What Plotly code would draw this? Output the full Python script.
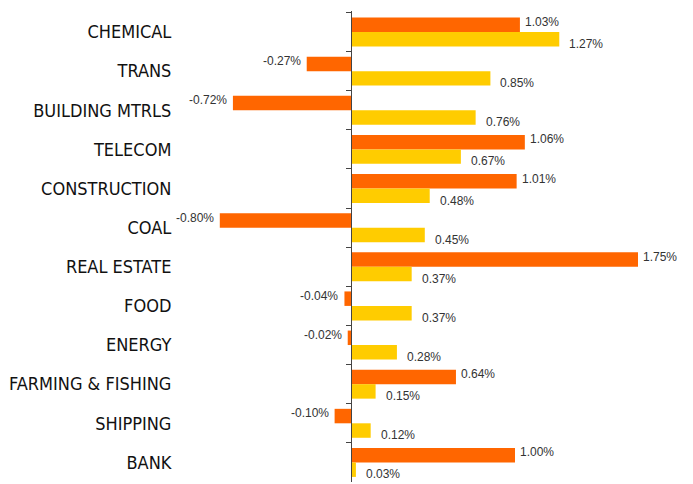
import plotly.graph_objects as go

categories = ["CHEMICAL", "TRANS", "BUILDING MTRLS", "TELECOM", "CONSTRUCTION", "COAL",
              "REAL ESTATE", "FOOD", "ENERGY", "FARMING & FISHING", "SHIPPING", "BANK"]
series_a = [1.03, -0.27, -0.72, 1.06, 1.01, -0.80, 1.75, -0.04, -0.02, 0.64, -0.10, 1.00]
series_b = [1.27, 0.85, 0.76, 0.67, 0.48, 0.45, 0.37, 0.37, 0.28, 0.15, 0.12, 0.03]

color_a = "#FF6600"
color_b = "#FFCC00"

x_min, x_max = -1.0, 2.0

fig = go.Figure()
fig.add_trace(go.Bar(y=categories, x=series_a, orientation="h", marker_color=color_a,
                     marker_line_width=0, name="A", hoverinfo="skip"))
fig.add_trace(go.Bar(y=categories, x=series_b, orientation="h", marker_color=color_b,
                     marker_line_width=0, name="B", hoverinfo="skip"))

label_font = dict(family="Liberation Sans, Arial, sans-serif", size=12, color="#333333")
annotations = []
for cat, v in zip(categories, series_a):
    annotations.append(dict(x=v, y=cat, xref="x", yref="y", text=f"{v:.2f}%", showarrow=False,
                            xanchor="left" if v >= 0 else "right", yanchor="middle",
                            xshift=3 if v >= 0 else -4, yshift=10, font=label_font))
for cat, v in zip(categories, series_b):
    annotations.append(dict(x=v, y=cat, xref="x", yref="y", text=f"{v:.2f}%", showarrow=False,
                            xanchor="left" if v >= 0 else "right", yanchor="middle",
                            xshift=8 if v >= 0 else -8, yshift=-12, font=label_font))

fig.update_layout(
    width=685, height=476,
    margin=dict(l=179, r=14, t=3, b=2, autoexpand=False),
    paper_bgcolor="white", plot_bgcolor="white",
    barmode="group", bargap=0.26, bargroupgap=0,
    showlegend=False,
    annotations=annotations,
    xaxis=dict(range=[x_min, x_max], visible=False, showgrid=False, zeroline=False,
               automargin=False),
    yaxis=dict(
        type="category", autorange="reversed", automargin=False,
        anchor="free", position=(0 - x_min) / (x_max - x_min),
        showline=True, linecolor="#444444", linewidth=1,
        ticks="outside", ticklen=5, tickcolor="#444444", tickwidth=1,
        tickson="boundaries", showgrid=False, zeroline=False,
        ticklabelstandoff=176,
        tickfont=dict(family="DejaVu Sans Condensed, Liberation Sans Narrow", size=18, color="#111111"),
    ),
)

fig.write_html("out.html")
